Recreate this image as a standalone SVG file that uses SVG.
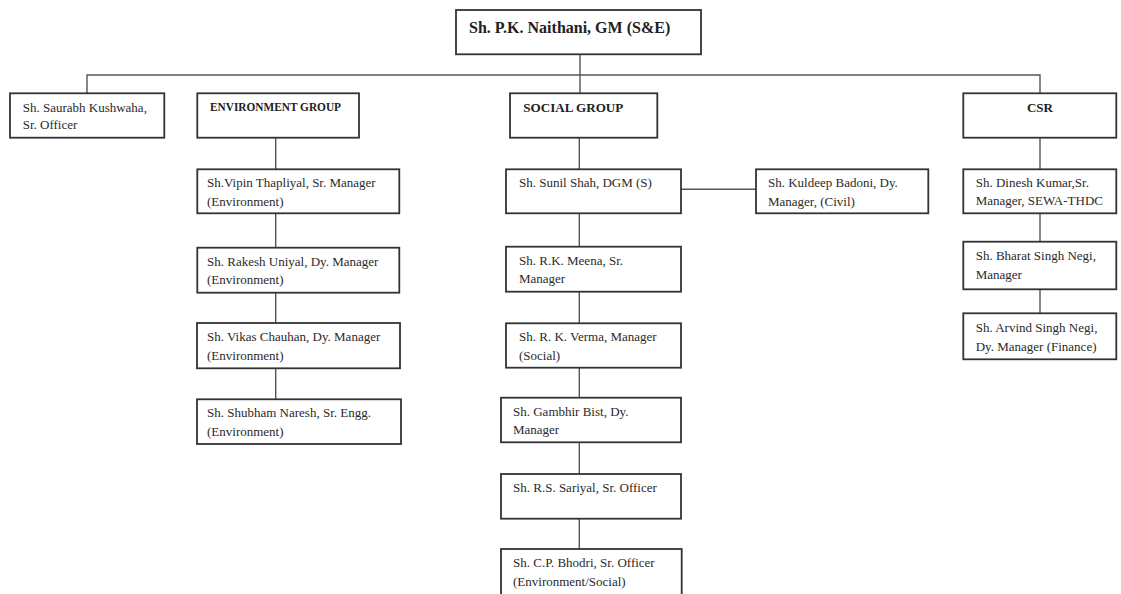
<svg xmlns="http://www.w3.org/2000/svg" width="1121" height="594" viewBox="0 0 1121 594">
<style>
.box{fill:#fff;stroke:#333;stroke-width:1.8}
.t{font-family:"Liberation Serif","Times New Roman",serif;font-size:13px;fill:#2a2a2a}
.h{font-family:"Liberation Serif","Times New Roman",serif;font-weight:bold;fill:#222}
.c{fill:none;stroke:#555;stroke-width:1.4}
</style>
<rect width="1121" height="594" fill="#fff"/>
<g id="connectors">
<path class="c" d="M580 54 V93 M87 93 V75 H1040 V93"/>
<path class="c" d="M275.7 137.7 V169.3 M275.7 213.3 V247.7 M275.7 292.7 V323 M275.7 368.3 V399.3"/>
<path class="c" d="M579.3 137.7 V169.3 M579.3 213.3 V246.7 M579.3 291.7 V323.3 M579.3 367.7 V397.7 M579.3 442.3 V474 M579.3 518.7 V549 M681 189.3 H756"/>
<path class="c" d="M1040 137.7 V169.3 M1040 213.3 V241.7 M1040 289.3 V313.3"/>
</g>
<g id="gm"><rect class="box" x="456" y="10" width="245" height="44.3"/><text class="h" x="469" y="33" font-size="16">Sh. P.K. Naithani, GM (S&amp;E)</text></g>
<g id="saurabh"><rect class="box" x="10" y="93.3" width="154.3" height="44.4"/><text class="t" x="22.7" y="111.5">Sh. Saurabh Kushwaha,</text><text class="t" x="22.7" y="129">Sr. Officer</text></g>
<g id="env"><rect class="box" x="197.3" y="93.3" width="161.7" height="44.4"/><text class="h" x="210" y="110.5" font-size="11.5" textLength="131" lengthAdjust="spacingAndGlyphs">ENVIRONMENT GROUP</text></g>
<g id="social"><rect class="box" x="510" y="93.3" width="147.3" height="44.4"/><text class="h" x="523.3" y="112" font-size="12.5" textLength="100" lengthAdjust="spacingAndGlyphs">SOCIAL GROUP</text></g>
<g id="csr"><rect class="box" x="963.3" y="93.3" width="153" height="44.4"/><text class="h" x="1040" y="112" font-size="13" text-anchor="middle">CSR</text></g>
<g id="vipin"><rect class="box" x="197.3" y="169.3" width="202" height="44"/><text class="t" x="207" y="187">Sh.Vipin Thapliyal, Sr. Manager</text><text class="t" x="207" y="205.5">(Environment)</text></g>
<g id="rakesh"><rect class="box" x="197.3" y="247.7" width="202" height="45"/><text class="t" x="207" y="265.5">Sh. Rakesh Uniyal, Dy. Manager</text><text class="t" x="207" y="284">(Environment)</text></g>
<g id="vikas"><rect class="box" x="197" y="323" width="203" height="45.3"/><text class="t" x="207" y="341">Sh. Vikas Chauhan, Dy. Manager</text><text class="t" x="207" y="359.5">(Environment)</text></g>
<g id="shubham"><rect class="box" x="197" y="399.3" width="204" height="44.7"/><text class="t" x="207" y="417">Sh. Shubham Naresh, Sr. Engg.</text><text class="t" x="207" y="435.5">(Environment)</text></g>
<g id="sunil"><rect class="box" x="506" y="169.3" width="175" height="44"/><text class="t" x="519" y="186.7">Sh. Sunil Shah, DGM (S)</text></g>
<g id="kuldeep"><rect class="box" x="756" y="169.3" width="172.3" height="44"/><text class="t" x="768" y="186.7">Sh. Kuldeep Badoni, Dy.</text><text class="t" x="768" y="205.5">Manager, (Civil)</text></g>
<g id="meena"><rect class="box" x="506" y="246.7" width="175" height="45"/><text class="t" x="519" y="264.5">Sh. R.K. Meena, Sr.</text><text class="t" x="519" y="283">Manager</text></g>
<g id="verma"><rect class="box" x="506" y="323.3" width="175" height="44.4"/><text class="t" x="519" y="341">Sh. R. K. Verma, Manager</text><text class="t" x="519" y="359.5">(Social)</text></g>
<g id="gambhir"><rect class="box" x="501" y="397.7" width="180" height="44.6"/><text class="t" x="513" y="415.5">Sh. Gambhir Bist, Dy.</text><text class="t" x="513" y="434">Manager</text></g>
<g id="sariyal"><rect class="box" x="501" y="474" width="180" height="44.7"/><text class="t" x="513" y="491.5">Sh. R.S. Sariyal, Sr. Officer</text></g>
<g id="bhodri"><rect class="box" x="501" y="549" width="180.7" height="50"/><text class="t" x="513" y="566.7">Sh. C.P. Bhodri, Sr. Officer</text><text class="t" x="513" y="585.5">(Environment/Social)</text></g>
<g id="dinesh"><rect class="box" x="963.3" y="169.3" width="153" height="44"/><text class="t" x="975.7" y="186.5">Sh. Dinesh Kumar,Sr.</text><text class="t" x="975.7" y="205">Manager, SEWA-THDC</text></g>
<g id="bharat"><rect class="box" x="963.3" y="241.7" width="153" height="47.6"/><text class="t" x="975.7" y="260">Sh. Bharat Singh Negi,</text><text class="t" x="975.7" y="279">Manager</text></g>
<g id="arvind"><rect class="box" x="963.3" y="313.3" width="153" height="46"/><text class="t" x="975.7" y="332">Sh. Arvind Singh Negi,</text><text class="t" x="975.7" y="351">Dy. Manager (Finance)</text></g>
</svg>
